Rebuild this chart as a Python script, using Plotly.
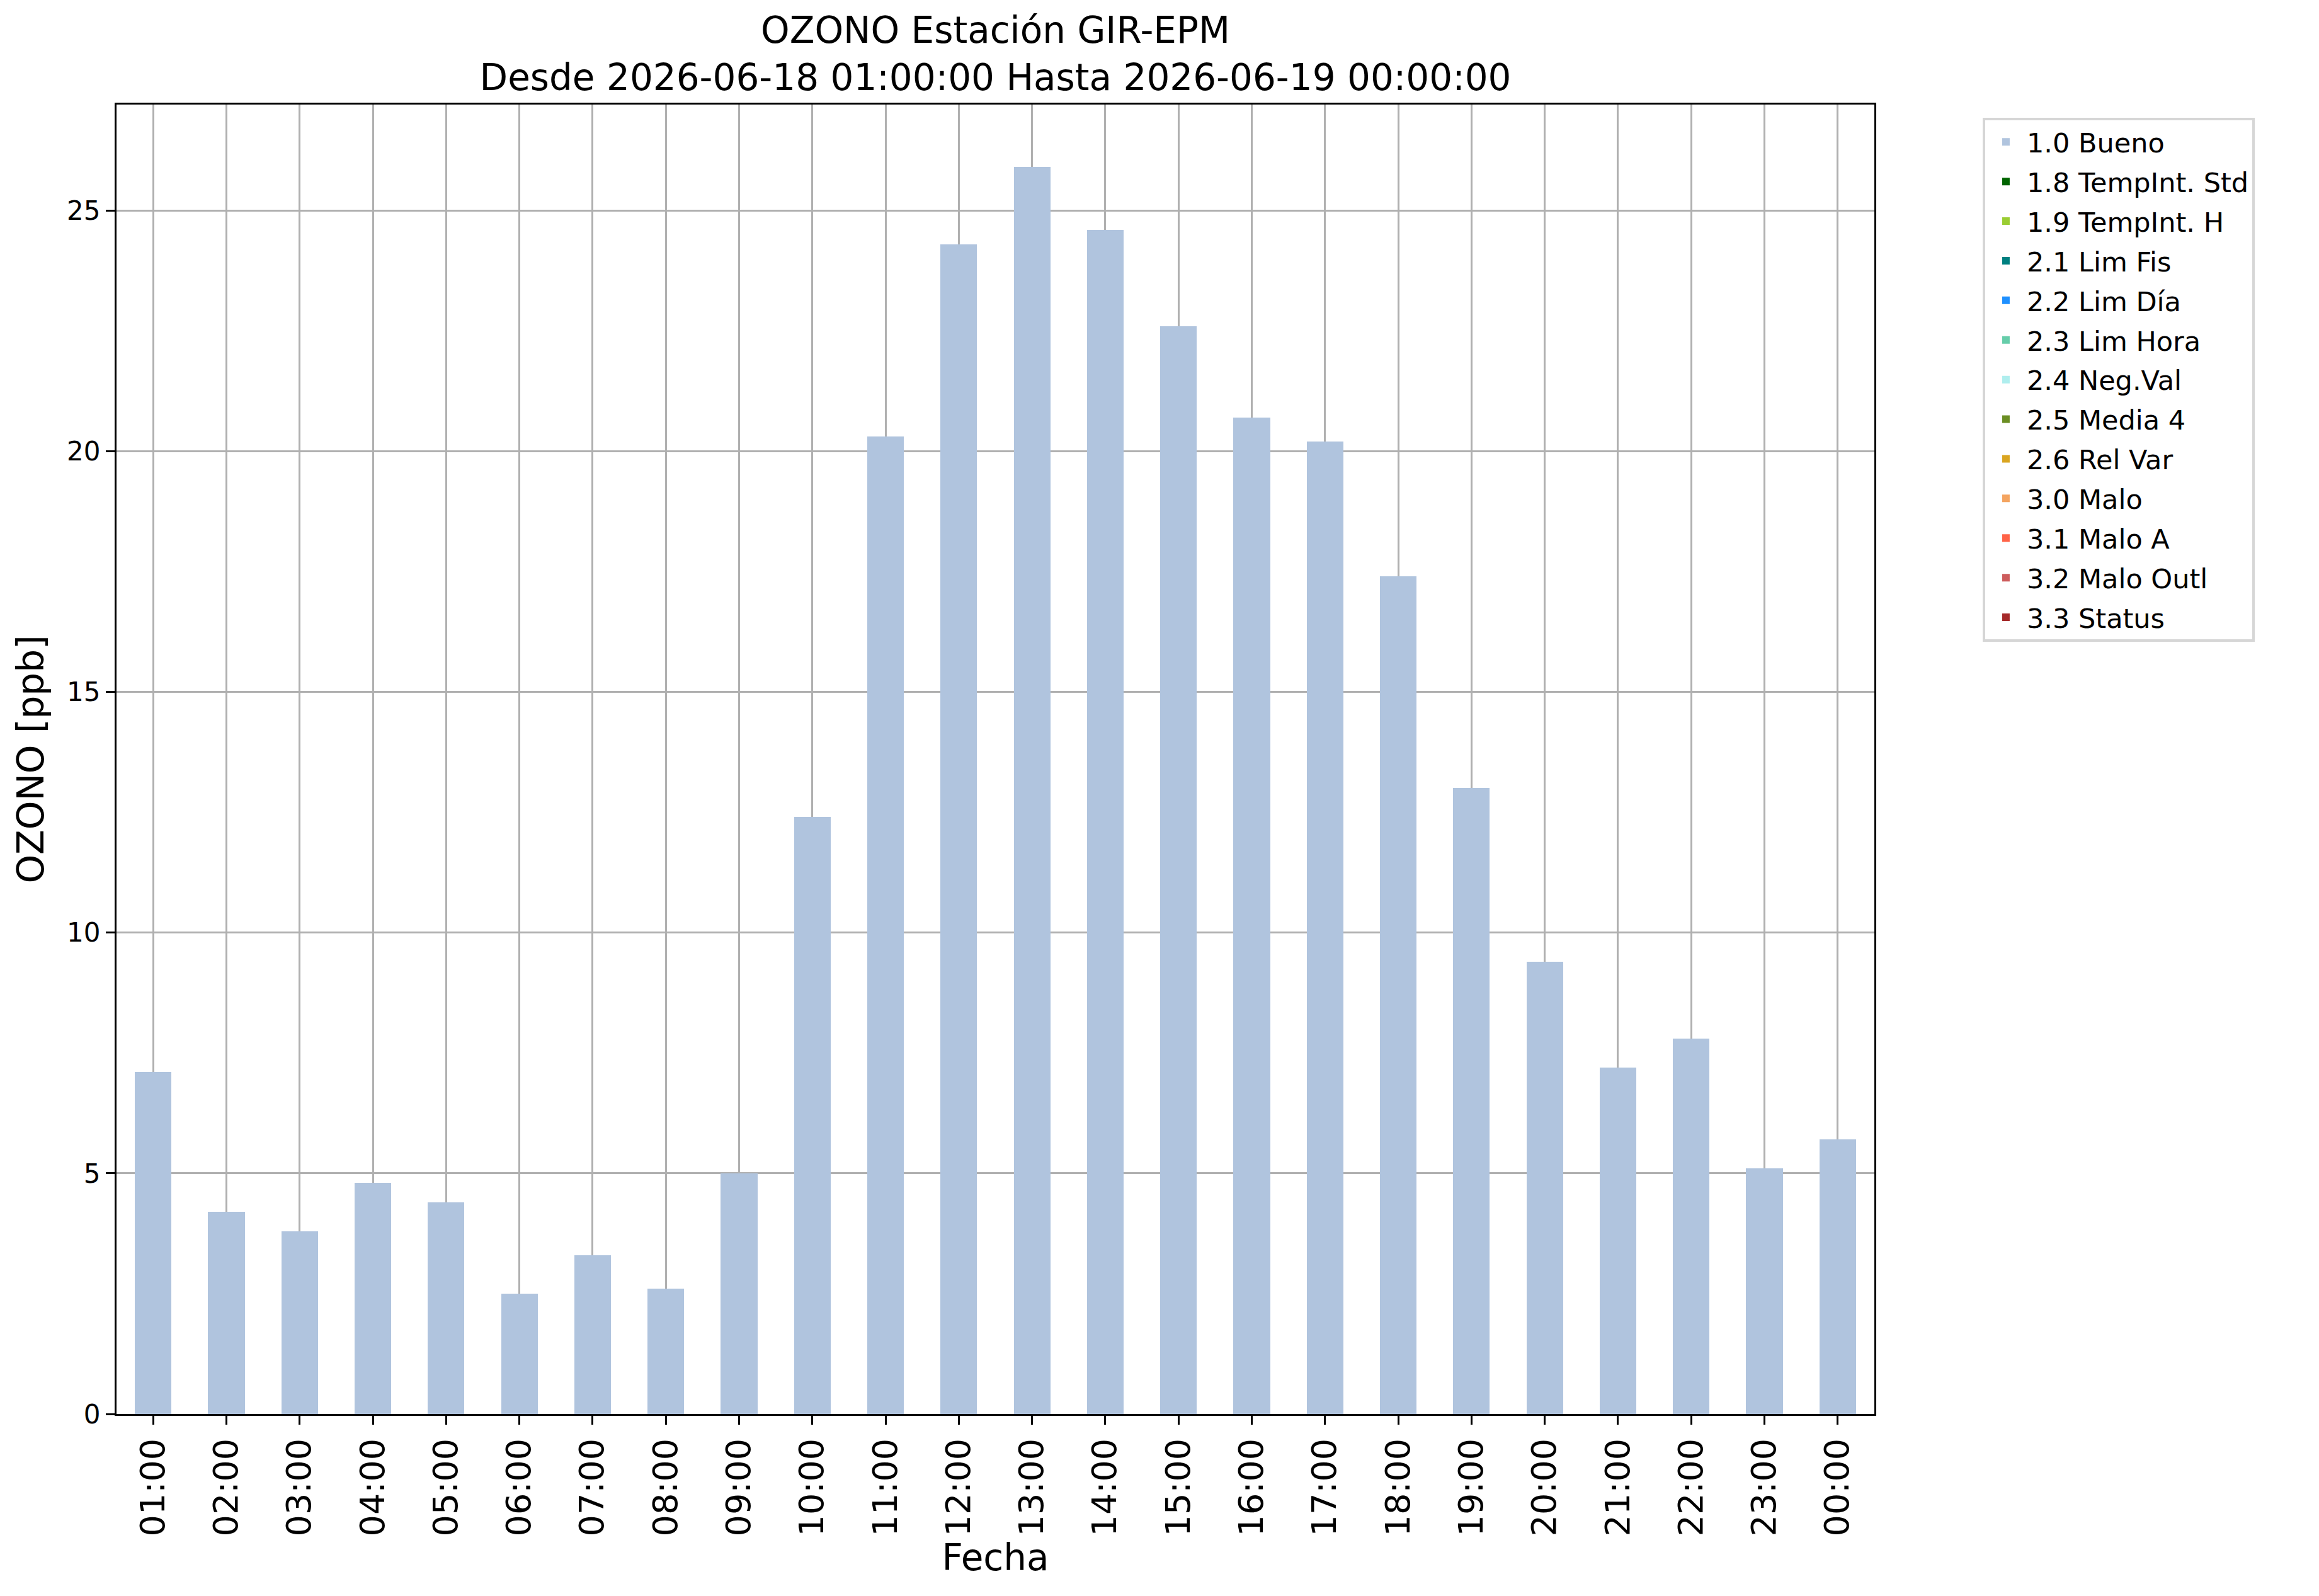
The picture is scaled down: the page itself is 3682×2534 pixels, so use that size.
import plotly.graph_objs as go

# horas del periodo y concentracion de ozono [ppb]
horas = ['01:00', '02:00', '03:00', '04:00', '05:00', '06:00', '07:00', '08:00',
         '09:00', '10:00', '11:00', '12:00', '13:00', '14:00', '15:00', '16:00',
         '17:00', '18:00', '19:00', '20:00', '21:00', '22:00', '23:00', '00:00']
ozono = [7.1, 4.2, 3.8, 4.8, 4.4, 2.5, 3.3, 2.6, 5.0, 12.4, 20.3, 24.3,
         25.9, 24.6, 22.6, 20.7, 20.2, 17.4, 13.0, 9.4, 7.2, 7.8, 5.1, 5.7]
# el resto de banderas no tiene datos en este periodo (0 en todas las horas)
sin_datos = [0] * len(horas)

# banderas de calidad y sus colores
banderas = ['1.0 Bueno', '1.8 TempInt. Std', '1.9 TempInt. H', '2.1 Lim Fis',
            '2.2 Lim Día', '2.3 Lim Hora', '2.4 Neg.Val', '2.5 Media 4',
            '2.6 Rel Var', '3.0 Malo', '3.1 Malo A', '3.2 Malo Outl', '3.3 Status']
colores = ['lightsteelblue', 'darkgreen', 'yellowgreen', 'teal', 'dodgerblue',
           'mediumaquamarine', 'paleturquoise', 'olivedrab', 'goldenrod',
           'sandybrown', 'tomato', 'indianred', 'brown']

fuente = 'DejaVu Sans'

fig = go.Figure()
for i, bandera in enumerate(banderas):
    valores = ozono if i == 0 else sin_datos
    fig.add_trace(go.Bar(x=horas, y=valores, name=bandera, legendgroup=bandera,
                         marker=dict(color=colores[i], line=dict(width=0)),
                         width=0.5))

fig.update_layout(
    width=3682, height=2534,
    barmode='stack',
    plot_bgcolor='white', paper_bgcolor='white',
    font=dict(family=fuente, size=40, color='black'),
    # la pagina tiene 8px de margen en el body
    margin=dict(l=177, r=714, t=158, b=297),
    title=dict(text='OZONO Estación GIR-EPM<br>Desde 2026-06-18 01:00:00 Hasta 2026-06-19 00:00:00',
               x=0.5, xref='paper', xanchor='center',
               y=0.9765, yref='container', yanchor='top',
               font=dict(family=fuente, size=58)),
    legend=dict(x=1.0616, y=0.99, xanchor='left', yanchor='top',
                font=dict(family=fuente, size=43),
                bordercolor='#d6d6d6', borderwidth=4, bgcolor='white',
                itemwidth=56, tracegroupgap=4, traceorder='grouped'),
    showlegend=True,
)
fig.update_xaxes(type='category', range=[-0.5, 23.5],
                 title=dict(text='Fecha', font=dict(family=fuente, size=58), standoff=12),
                 tickangle=-90, tickfont=dict(family=fuente, size=54),
                 ticks='outside', ticklen=14, tickwidth=3.4, tickcolor='black',
                 showline=True, linecolor='black', linewidth=3.4, mirror=True,
                 showgrid=True, gridcolor='#b0b0b0', gridwidth=3,
                 layer='above traces')
fig.update_yaxes(range=[0, 27.2], dtick=5,
                 title=dict(text='OZONO [ppb]', font=dict(family=fuente, size=58), standoff=18),
                 tickfont=dict(family=fuente, size=42),
                 ticks='outside', ticklen=14, tickwidth=3.4, tickcolor='black',
                 showline=True, linecolor='black', linewidth=3.4, mirror=True,
                 showgrid=True, gridcolor='#b0b0b0', gridwidth=3,
                 zeroline=False, layer='above traces')

fig.write_html('out.html')
